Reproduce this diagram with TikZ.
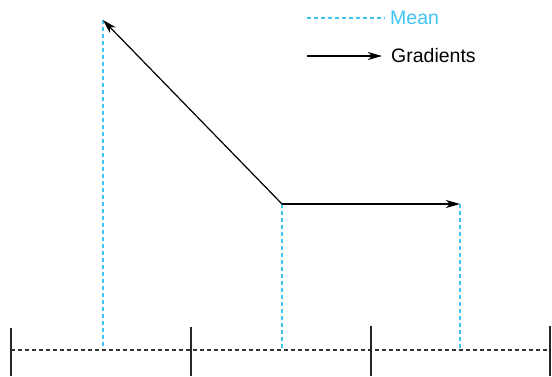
\documentclass[tikz,border=0pt]{standalone}
\usepackage{fontspec}
\setmainfont{Liberation Sans}
\usetikzlibrary{arrows.meta}
\definecolor{meanblue}{RGB}{64,196,244}
\tikzset{
  meanline/.style={meanblue, line width=1.2pt, dash pattern=on 4pt off 3pt},
  gradarrow/.style={black, line width=1.2pt, -{Stealth[length=14pt,width=8pt,inset=4pt]}},
  axisline/.style={black!80, line width=1.2pt, dash pattern=on 4pt off 3pt},
  tickline/.style={black!85, line width=1.5pt},
  legendtext/.style={font=\fontsize{19.5}{22}\selectfont, inner sep=0pt, anchor=west}
}
\begin{document}
\begin{tikzpicture}[x=1pt,y=-1pt]
\useasboundingbox (0,0) rectangle (552,376);
% coordinates
\coordinate (O) at (282,204);
\coordinate (A) at (103,20);
\coordinate (B) at (460,204);
\coordinate (Ab) at (103,348);
\coordinate (Ob) at (282,348);
\coordinate (Bb) at (460,348);
\coordinate (L) at (11,350);
\coordinate (R) at (550,350);
\coordinate (t1a) at (11,328); \coordinate (t1b) at (11,376);
\coordinate (t2a) at (191,327); \coordinate (t2b) at (191,376);
\coordinate (t3a) at (371,326); \coordinate (t3b) at (371,376);
\coordinate (t4a) at (550,326); \coordinate (t4b) at (550,376);
% axis
\draw[axisline] (L) -- (R);
\draw[tickline] (t1a) -- (t1b);
\draw[tickline] (t2a) -- (t2b);
\draw[tickline] (t3a) -- (t3b);
\draw[tickline] (t4a) -- (t4b);
% mean lines
\draw[meanline] (A) -- (Ab);
\draw[meanline] (O) -- (Ob);
\draw[meanline] (B) -- (Bb);
% gradients
\draw[gradarrow] (O) -- (A);
\draw[gradarrow] (O) -- (B);
% legend
\coordinate (m1) at (307,18);
\coordinate (m2) at (385,18);
\draw[meanline] (m1) -- (m2);
\node[legendtext, text=meanblue] (meanlbl) at (390,18) {Mean};
\coordinate (g1) at (307,56);
\coordinate (g2) at (382,56);
\draw[gradarrow] (g1) -- (g2);
\node[legendtext] (gradlbl) at (391,56) {Gradients};
\end{tikzpicture}
\end{document}
